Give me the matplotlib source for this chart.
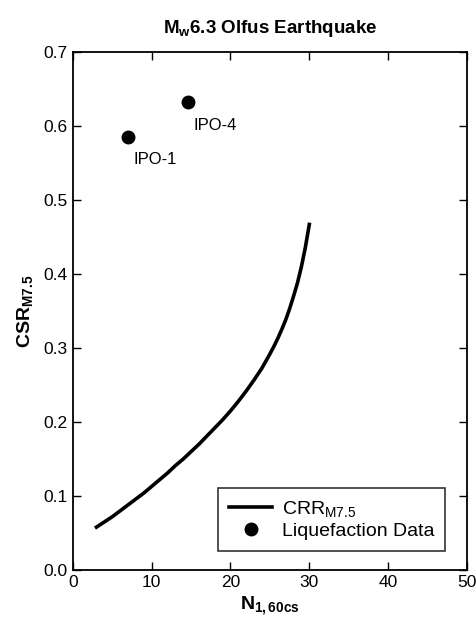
import matplotlib
matplotlib.use('Agg')
import matplotlib.pyplot as plt

plt.rcParams['font.family'] = 'Liberation Sans'
plt.rcParams['mathtext.fontset'] = 'custom'
plt.rcParams['mathtext.rm'] = 'Liberation Sans'
plt.rcParams['mathtext.it'] = 'Liberation Sans'
plt.rcParams['mathtext.bf'] = 'Liberation Sans:bold'

# CRR curve (M7.5)
n_crr = [3, 4, 5, 6, 7, 8, 9, 10, 11, 12, 13, 14, 15, 16, 17, 18, 19, 20, 21, 22,
         23, 24, 25, 25.5, 26, 26.5, 27, 27.5, 28, 28.5, 29, 29.5, 30]
crr = [0.058, 0.065, 0.072, 0.080, 0.088, 0.096, 0.104, 0.113, 0.122, 0.131,
       0.141, 0.150, 0.160, 0.170, 0.181, 0.192, 0.203, 0.215, 0.228, 0.242,
       0.257, 0.273, 0.292, 0.302, 0.313, 0.325, 0.338, 0.353, 0.370, 0.388,
       0.410, 0.436, 0.467]

# liquefaction data points
sites = ['IPO-1', 'IPO-4']
n_sites = [7.0, 14.6]
csr_sites = [0.585, 0.632]

fig = plt.figure(figsize=(4.76, 6.23), dpi=100)
ax = fig.add_axes([0.153, 0.085, 0.828, 0.8315])

ax.plot(n_crr, crr, color='black', lw=2.6, label='CRR$_{M7.5}$')
ax.plot(n_sites, csr_sites, 'o', color='black', ms=9, label='Liquefaction Data')
for s, x, y in zip(sites, n_sites, csr_sites):
    ax.annotate(s, (x, y), xytext=(4, -11), textcoords='offset points',
                ha='left', va='top', fontsize=12)

ax.set_xlim(0, 50)
ax.set_ylim(0, 0.7)
ax.set_xticks([0, 10, 20, 30, 40, 50])
ax.set_yticks([0.0, 0.1, 0.2, 0.3, 0.4, 0.5, 0.6, 0.7])
ax.set_yticklabels(['0.0', '0.1', '0.2', '0.3', '0.4', '0.5', '0.6', '0.7'])
ax.tick_params(direction='in', top=True, right=True, labelsize=12.5, length=6, width=1)
for sp in ax.spines.values():
    sp.set_linewidth(1.3)

ax.set_xlabel(r'$\mathbf{N_{1,60cs}}$', fontsize=14, labelpad=3)
ax.set_ylabel(r'$\mathbf{CSR_{M7.5}}$', fontsize=14, labelpad=6)
ax.set_title(r'$\mathbf{M_w 6.3\ Olfus\ Earthquake}$', fontsize=13.5, pad=14)

leg = ax.legend(loc='lower right', bbox_to_anchor=(0.944, 0.037), fontsize=14,
                frameon=True, fancybox=False, edgecolor='black',
                handlelength=2.2, handletextpad=0.5, borderpad=0.55,
                labelspacing=0.2, borderaxespad=0)
leg.get_frame().set_linewidth(1.2)

fig.savefig('out.png', dpi=100)
